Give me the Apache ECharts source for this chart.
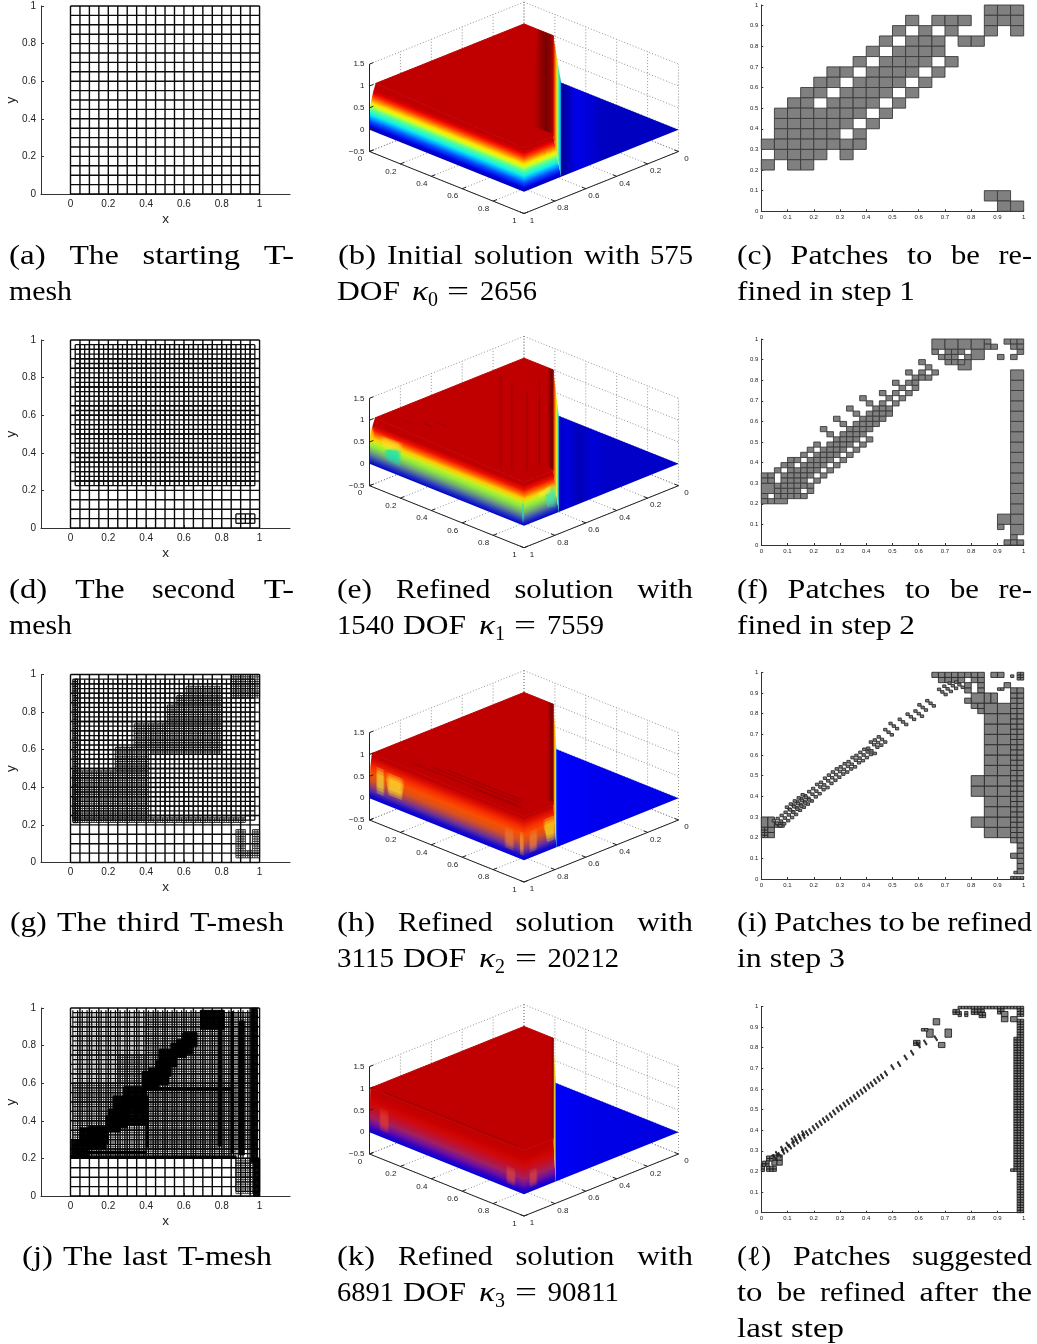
<!DOCTYPE html>
<html><head><meta charset="utf-8">
<style>html,body{margin:0;padding:0;background:#fff}#c{width:1037px;height:1344px}</style>
<script src="https://cdn.jsdelivr.net/npm/echarts@6/dist/echarts.min.js"></script>
</head><body><div id="c"></div>
<script>
// ---------- layout rows ----------
const meshTops=[6,340,674.5,1008];
const patchBoxes=[[5,206.3],[339,206],[672.3,206.7],[1006.3,206.4]];
const surfOffsets=[0,334.2,668.5,1002.5];
const capRows=[0,334,667,1001];
// ---------- tick labels ----------
const meshTicks=[0,0.2,0.4,0.6,0.8,1];
const zTicks=[-0.5,0,0.5,1,1.5];
// ---------- T-mesh data: [x0,x1,y0,y1,spacing] ----------
const meshBase=[[0,1,0,1,0.05]];
const meshD2=[[0.025,0.975,0.225,0.975,0.025],[0.875,0.975,0.025,0.075,0.025]];
const meshG2=[[0.025,0.975,0.225,0.975,0.025],[0.0125,0.0375,0.2125,0.975,0.0125]];
const meshG3=[[0.0125,0.4125,0.225,0.4875,0.0125],[0.2375,0.4125,0.4875,0.6125,0.0125],[0.3375,0.425,0.6125,0.7375,0.0125],
 [0.425,0.8,0.575,0.7375,0.0125],[0.5125,0.8,0.7375,0.8375,0.0125],[0.5625,0.8,0.8375,0.8875,0.0125],[0.6125,0.8,0.8875,0.9375,0.0125],
 [0.025,0.925,0.2125,0.2375,0.0125],[0.85,1,0.875,1,0.0125],[0.875,0.925,0.025,0.175,0.0125],[0.9625,1,0.025,0.175,0.0125],[0.925,0.9625,0.025,0.0625,0.0125]];
const meshJ2=[[0.0125,0.9875,0.2,0.9875,0.025],[0.875,1,0.025,0.2,0.025]];
const meshJ3light=[[0.025,0.4,0.6,0.975,0.0125],[0.025,0.25,0.5,0.6,0.0125]];
const meshJ3=[[0.0125,0.875,0.2,0.6,0.0125],[0.4,0.975,0.25,0.975,0.0125],[0.25,0.4,0.6,0.75,0.0125],[0.875,0.975,0.0125,0.2,0.0125]];
const meshJ4=[[0.00625,0.09375,0.2,0.3,0.00625],[0.09375,0.1875,0.25,0.36875,0.00625],[0.05,0.2,0.28,0.3625,0.00625],[0.1875,0.2625,0.34375,0.425,0.00625],
 [0.2,0.3,0.3625,0.4625,0.00625],[0.225,0.4125,0.38125,0.53125,0.00625],[0.28125,0.4,0.4625,0.58125,0.00625],[0.38125,0.46875,0.5625,0.6625,0.00625],[0.4125,0.51875,0.59375,0.68125,0.00625],
 [0.45,0.53125,0.6375,0.71875,0.00625],[0.46875,0.5625,0.6875,0.78125,0.00625],[0.53125,0.6125,0.7375,0.8125,0.00625],[0.5625,0.64375,0.75625,0.83125,0.00625],[0.59375,0.66875,0.79375,0.86875,0.00625],
 [0.6875,0.8125,0.8875,0.9875,0.00625],[0.89375,0.91875,0.21875,0.93125,0.00625],[0.95625,0.9875,0.18,1,0.00625],
 [0.96875,1,0,0.2,0.00625],[0.78125,0.8,0.26875,0.9625,0.00625],[0.85,0.8625,0.23,0.98,0.00625],[0.4,0.85,0.5625,0.575,0.00625],[0.4,0.4125,0.26,0.45,0.00625],
 [0,0.875,0.2,0.2125,0.00625],[0.0625,0.4,0.225,0.2375,0.00625]];
// ---------- patch data ----------
const cellC=0.05;
const rowsC=[[19,[17,18,19]],[18,[11,13,14,15,17,18,19]],[17,[10,12,14,17,19]],[16,[9,11,12,13,15,16]],[15,[8,10,11,12,13]],[14,[7,9,10,11,12,14]],
 [13,[5,6,8,9,10,11,13]],[12,[4,5,7,8,9,10,12]],[11,[3,4,6,7,8,9,11]],[10,[2,3,5,6,7,8,10]],[9,[1,2,3,4,5,6,7,9]],[8,[1,2,3,4,5,6,8]],
 [7,[1,2,3,4,5,7]],[6,[0,1,2,3,4,5,6,7]],[5,[1,2,3,4,6]],[4,[0,2,3]],[1,[17,18]],[0,[18,19]]];
const cellF=0.025;
const rowsF=[[39,[34,37,38,39]],[38,[34,35,38,39]],[37,[26,28,29,30,39]],[36,[27,28,29,31,36,38]],[35,[24,28,29,30]],[34,[25]],
 [33,[22,24,26]],[32,[23,24,25]],[31,[20,22,23]],[30,[21,23]],[29,[18,20,22]],[28,[15,19,21]],[27,[16,18,20]],[26,[13,17,18,19]],
 [25,[14,16,17,18,19]],[24,[11,15,16,17,18]],[23,[12,14,15,16,17]],[22,[9,13,14,15,16]],[21,[10,12,13,14,15]],[20,[11,12,13,14,16]],
 [19,[8,10,11,12,13,15]],[18,[7,9,10,11,12,14]],[17,[6,8,9,10,11,13]],[16,[4,5,7,8,9,10,12]],[15,[3,4,6,7,8,9,11]],[14,[2,4,5,6,7,8,10]],
 [13,[0,1,3,4,5,6,7,9]],[12,[0,1,3,4,5,6,8]],[11,[2,3,4,5,6,7]],[10,[2,3,4,5,7]],[9,[0,2,3,4,5,6]],[8,[0,1]],[3,[36]],[1,[38]],[0,[37,38,39]]];
const blocksF=[[0.65,0.85,0.95,1,0.05,0.05],[0.8,0.85,0.9,0.95,0.05,0.05],[0.75,0.8,0.85,0.9,0.05,0.05],[0.95,1,0.05,0.85,0.05,0.05],
 [0.9,0.95,0.1,0.15,0.05,0.05],[0,0.05,0.25,0.3,0.05,0.05],[0.05,0.1,0.2,0.25,0.05,0.05]];
const blocksI=[[0.65,0.85,0.975,1,0.025,0.025],[0.875,0.925,0.975,1,0.025,0.025],[0.675,0.775,0.95,0.975,0.025,0.025],[0.8,0.85,0.95,0.975,0.025,0.025],
 [0.775,0.8,0.9,0.95,0.025,0.025],[0.825,0.85,0.9,0.95,0.025,0.025],[0.8,0.85,0.85,0.9,0.05,0.05],[0.85,0.9,0.85,0.9,0.025,0.05],[0.775,0.8,0.85,0.875,0.025,0.025],
 [0.8,0.825,0.825,0.85,0.025,0.025],[0.825,0.85,0.8,0.85,0.025,0.025],[0.9,0.925,0.9125,0.925,0.0125,0.0125],[0.925,0.95,0.925,0.95,0.025,0.025],
 [0.85,0.95,0.2,0.85,0.05,0.05],[0.8,0.85,0.4,0.5,0.05,0.05],[0.8,0.85,0.25,0.3,0.05,0.05],[0.95,1,0.2,0.925,0.025,0.025],
 [0.95,0.975,0.175,0.2,0.025,0.025],[0.975,1,0.025,0.2,0.025,0.025],[0.95,0.975,0.1,0.125,0.025,0.025],[0.9625,0.975,0.025,0.0375,0.0125,0.0125],
 [0.95,1,0,0.0125,0.0125,0.0125],[0.975,1,0.9625,1,0.0125,0.0125],[0.95,0.9625,0.975,0.9875,0.0125,0.0125],
 [0,0.05,0.25,0.3,0.025,0.05],[0,0.025,0.2,0.25,0.0125,0.0125],[0.025,0.05,0.2,0.25,0.025,0.025],[0.05,0.0875,0.25,0.275,0.0125,0.0125]];
const strokesI=[[0.645,0.85],[0.615,0.83],[0.6,0.8],[0.57,0.785],[0.54,0.76],[0.505,0.74],[0.485,0.71],[0.46,0.675],[0.445,0.66],[0.43,0.65],[0.42,0.62],
 [0.405,0.615],[0.39,0.6],[0.375,0.585],[0.36,0.575],[0.345,0.555],[0.33,0.545],[0.315,0.53],[0.3,0.52],[0.285,0.505],[0.27,0.49],[0.255,0.475],[0.24,0.455],
 [0.225,0.445],[0.21,0.425],[0.195,0.41],[0.18,0.39],[0.165,0.375],[0.15,0.36],[0.135,0.345],[0.12,0.325],[0.105,0.31],[0.09,0.295],[0.075,0.28],[0.06,0.27],
 [0.14,0.365],[0.155,0.38],[0.17,0.395],[0.125,0.35],[0.11,0.335],[0.69,0.905],[0.71,0.92],[0.73,0.935],[0.755,0.94]];
const blocksL=[[0.975,1,0,0.93,0.0125,0.0125],[0.9625,0.975,0.2,0.85,0.0125,0.0125],[0.95,0.9625,0.2,0.2125,0.0125,0.0125],[0.75,1,0.9875,1,0.0125,0.0125],
 [0.75,0.7625,0.95,0.975,0.0125,0.0125],[0.73,0.75,0.96,0.975,0.0125,0.0125],[0.775,0.7875,0.95,0.975,0.0125,0.0125],[0.8,0.85,0.96,0.975,0.0125,0.0125],[0.83,0.85,0.945,0.96,0.0125,0.0125],
 [0.9,0.925,0.9625,0.9875,0.0125,0.0125],[0.915,0.94,0.925,0.975,0.025,0.025],[0.95,0.975,0.925,0.95,0.025,0.025],[0.975,0.99,0.95,0.985,0.0125,0.0125],
 [0.63,0.655,0.85,0.89,0.025,0.04],[0.655,0.68,0.91,0.94,0.025,0.03],[0.675,0.7,0.8,0.825,0.025,0.025],[0.7,0.725,0.85,0.89,0.025,0.04],[0.58,0.605,0.81,0.825,0.0125,0.0125],[0.61,0.63,0.88,0.89,0.0125,0.0125],
 [0.04,0.08,0.23,0.28,0.02,0.025],[0,0.0125,0.2,0.23,0.0125,0.0125],[0.02,0.05,0.2,0.22,0.0125,0.0125],[0.02,0.04,0.25,0.265,0.0125,0.0125],[0.005,0.02,0.225,0.24,0.0125,0.0125]];
const strokesL=[[0.665,0.845],[0.625,0.825],[0.6,0.81],[0.575,0.775],[0.55,0.752],[0.525,0.72],[0.5,0.705],[0.475,0.675],[0.46,0.66],[0.447,0.648],[0.434,0.636],[0.421,0.622],
 [0.408,0.612],[0.395,0.598],[0.382,0.586],[0.369,0.574],[0.356,0.56],[0.343,0.548],[0.33,0.536],[0.317,0.524],[0.304,0.51],[0.291,0.5],[0.278,0.486],[0.265,0.472],
 [0.252,0.458],[0.239,0.448],[0.226,0.434],[0.213,0.422],[0.2,0.41],[0.187,0.395],[0.174,0.385],[0.161,0.37],[0.148,0.358],[0.135,0.345],[0.122,0.332],[0.109,0.32],[0.096,0.305],[0.083,0.295],[0.07,0.28],
 [0.13,0.36],[0.12,0.35],[0.1,0.33],[0.08,0.31],[0.06,0.285],[0.05,0.27],[0.16,0.385],[0.145,0.37]];
// ---------- surface data ----------
const layerEdgeB=[[0,1,0],[1,1,0],[1,1,1],[0,0.96,1],[0,0.975,0.85],[0,0.995,0.55]];
const layerEdgeE=[[0,1,0],[1,1,0],[1,1,1],[0,0.965,1],[0,0.98,0.85],[0,0.995,0.6]];
const layerEdgeH=[[0,1,0],[1,1,0],[1,1,1],[0,0.985,1],[0,0.995,0.7]];
const layerEdgeK=[[0,1,0],[1,1,0],[1,1,1],[0,0.995,1]];
const layerStopsB=[[0,'#0000b8'],[0.08,'#0000e0'],[0.2,'#0050ff'],[0.29,'#00b0ff'],[0.36,'#10f0e8'],[0.48,'#60ff90'],[0.56,'#d0ff20'],[0.63,'#ffe000'],[0.72,'#ff8000'],[0.8,'#ff2800'],[0.88,'#e00000'],[0.96,'#c00000'],[1,'#c00000']];
const layerStopsE=[[0,'#0000c8'],[0.1,'#2030c0'],[0.2,'#5070a0'],[0.3,'#70b070'],[0.42,'#90e840'],[0.53,'#c8f020'],[0.62,'#ffc800'],[0.72,'#ff6000'],[0.82,'#f01000'],[0.93,'#c00000'],[1,'#c00000']];
const layerStopsH=[[0,'#0000e0'],[0.08,'#1808c8'],[0.2,'#6030a0'],[0.3,'#a04060'],[0.42,'#d85020'],[0.58,'#f85000'],[0.72,'#f83000'],[0.85,'#e01000'],[0.97,'#c00000'],[1,'#c00000']];
const layerStopsK=[[0,'#0000e0'],[0.1,'#3000c0'],[0.22,'#7010a0'],[0.35,'#a02060'],[0.5,'#c01030'],[0.65,'#d00808'],[0.8,'#c80000'],[1,'#c00000']];
const shockB=[0.19,0.24,0.19,0.3,[[0,'#d01000'],[0.12,'#ff8000'],[0.22,'#e0f020'],[0.34,'#20f0d0'],[0.46,'#0080ff'],[0.62,'#0000e0'],[1,'#000090']]];
const shockE=[0.19,0.225,0.19,0.26,[[0,'#d01000'],[0.15,'#ff8000'],[0.3,'#e0f020'],[0.45,'#20f0d0'],[0.6,'#0080ff'],[0.8,'#0000e0'],[1,'#0000b0']]];
const shockH=[0.19,0.21,0.19,0.23,[[0,'#d01000'],[0.15,'#ff9000'],[0.3,'#e0f020'],[0.45,'#20f0d0'],[0.65,'#0080ff'],[1,'#0000ff']]];
const shockK=[0.19,0.205,0.19,0.215,[[0,'#d01000'],[0.2,'#ff9000'],[0.4,'#c0f050'],[0.6,'#40c0ff'],[1,'#0000ff']]];
const blueB=[[0,'#000090'],[0.08,'#0000a8'],[0.17,'#0000e8'],[0.28,'#0000d8'],[0.38,'#0000c0'],[1,'#0000c0']];
const blueE=[[0,'#0000b0'],[0.1,'#0000e0'],[0.2,'#0000b8'],[0.3,'#0000d8'],[0.42,'#0000c8'],[1,'#0000c8']];
const blueH=[[0,'#0000ff'],[0.3,'#0000f0'],[1,'#0000e8']];
const blueK=[[0,'#0000f8'],[0.3,'#0000e8'],[1,'#0000e0']];
const darkB=[[[0.09,0,1],[0.19,0,1],[0.98,0.79,1],[0.84,0.8,1]],0.04,0.19,[[0,'rgba(192,0,0,0)'],[0.4,'#a00000'],[0.68,'#780000'],[0.88,'#900000'],[1,'#c00000']]];
const darkE=[[[0.14,0,1],[0.19,0,1],[0.99,0.8,1],[0.94,0.8,1]],0.14,0.19,[[0,'rgba(192,0,0,0)'],[0.55,'#900000'],[0.85,'#700000'],[1,'#b00000']]];
const darkH=[[[0.14,0,1],[0.19,0,1],[0.98,0.79,1],[0.93,0.79,1]],0.14,0.19,[[0,'rgba(192,0,0,0)'],[0.6,'#900000'],[0.85,'#700000'],[1,'#c00000']]];
const darkK=[[[0.17,0,1],[0.19,0,1],[0.99,0.8,1],[0.97,0.8,1]],0.17,0.19,[[0,'rgba(192,0,0,0)'],[0.8,'#900000'],[1,'#c00000']]];
const blotsE=[[[[0.09,1,0.42],[0.21,1,0.72],[0.2,1,0.22],[0.1,1,0.24]],'0,225,205'],[[[0.06,1,0.75],[0.22,1,0.78],[0.2,1,0.55],[0.09,1,0.5]],'255,225,40'],
 [[[0,1,0.45],[0.03,1,0.45],[0.03,1,0.85],[0,1,0.85]],'255,210,0'],[[[0.985,1,0.08],[1,1,0.08],[1,1,0.55],[0.985,1,0.55]],'50,215,190'],
 [[[1,0.87,0.62],[1,0.79,0.68],[1,0.79,0.15],[1,0.85,0.2]],'60,225,190'],[[[1,0.92,0.6],[1,0.82,0.7],[1,0.82,0.5],[1,0.9,0.5]],'245,235,50']];
const blotsH=[[[[0.04,1,0.78],[0.1,1,0.78],[0.1,1,0.18],[0.04,1,0.18]],'240,225,60'],[[[0.1,1,0.75],[0.23,1,0.75],[0.21,1,0.25],[0.12,1,0.25]],'255,240,50'],
 [[[1,0.88,0.75],[1,0.8,0.75],[1,0.79,0.2],[1,0.85,0.2]],'245,230,30'],[[[0.97,1,0.1],[1,1,0.1],[1,1,0.62],[0.97,1,0.62]],'245,150,60'],
 [[[0.87,1,0.12],[0.94,1,0.12],[0.94,1,0.6],[0.87,1,0.6]],'235,120,50'],[[[1,0.97,0.12],[1,0.91,0.12],[1,0.91,0.6],[1,0.97,0.6]],'240,130,50']];
const blotsK=[[[[0.06,1,0.15],[0.13,1,0.15],[0.13,1,0.65],[0.06,1,0.65]],'230,60,40'],[[[0.88,1,0.1],[0.95,1,0.1],[0.95,1,0.5],[0.88,1,0.5]],'220,70,60'],
 [[[1,0.97,0.1],[1,0.91,0.1],[1,0.91,0.5],[1,0.97,0.5]],'220,70,60']];
const streaksE=[[[0.05,0.2],[0.8,0.95]],[[0.16,0.24],[0.86,0.94]],[[0.28,0.26],[0.92,0.9]],[[0.36,0.26],[0.93,0.83]],[[0.22,0.12],[0.9,0.8]],[[0.12,0.89],[0.17,0.89]],[[0.2,0.85],[0.26,0.85]],[[0.24,0.8],[0.3,0.8]]];
const streaksH=[[[0.21,0.93],[0.89,0.93]],[[0.3,0.9],[0.88,0.9]],[[0.38,0.875],[0.86,0.875]],[[0.62,0.94],[0.93,0.94]]];
const streaksK=[[[0.08,0.985],[0.95,0.985]]];
// ---------- captions: [row, line, text, left, right, kind] ----------
const captions=[
[0,0,'(a)',9,45.7],[0,0,'The',69.4,118.8],[0,0,'starting',142.5,240],[0,0,'T-',263.7,294],[0,1,'mesh',9,72],
[0,0,'(b)',338,376],[0,0,'Initial',387,463],[0,0,'solution',474,573],[0,0,'with',584,640],[0,0,'575',650,693],
[0,1,'DOF',337,400],[0,1,'κ',412,428,'m'],[0,1,'0',428,438,'s'],[0,1,'=',447,469],[0,1,'2656',480,537],
[0,0,'(c)',737,772],[0,0,'Patches',790.6,888.4],[0,0,'to',907,932.5],[0,0,'be',951,980],[0,0,'re-',998.6,1032],[0,1,'fined in step 1',737,915],
[1,0,'(d)',9,47.3],[1,0,'The',75.3,124.7],[1,0,'second',152,235],[1,0,'T-',263.7,294],[1,1,'mesh',9,72],
[1,0,'(e)',337,372],[1,0,'Refined',396,490.5],[1,0,'solution',514.4,613.4],[1,0,'with',637.3,693],
[1,1,'1540',337,394.4],[1,1,'DOF',403,466],[1,1,'κ',479,495,'m'],[1,1,'1',495,505,'s'],[1,1,'=',514,536],[1,1,'7559',547,604],
[1,0,'(f)',737,768],[1,0,'Patches',787.6,885.4],[1,0,'to',905,930.5],[1,0,'be',950,979],[1,0,'re-',998.5,1032],[1,1,'fined in step 2',737,915],
[2,0,'(g)',10,46.7],[2,0,'The',57,106.6],[2,0,'third',117,179.4],[2,0,'T-mesh',190,284],
[2,0,'(h)',337,375],[2,0,'Refined',398,492.6],[2,0,'solution',515.4,614.4],[2,0,'with',637.2,693],
[2,1,'3115',337,394],[2,1,'DOF',403,466],[2,1,'κ',479,495,'m'],[2,1,'2',495,505,'s'],[2,1,'=',515,537],[2,1,'20212',547.5,619],
[2,0,'(i)',737,767.3],[2,0,'Patches',774.3,872],[2,0,'to',879,904.6],[2,0,'be',911.6,940],[2,0,'refined',947.4,1032],[2,1,'in step 3',737,845],
[3,0,'(j)',22,53],[3,0,'The',63,112.6],[3,0,'last',122.8,167.6],[3,0,'T-mesh',177.8,272],
[3,0,'(k)',337,375],[3,0,'Refined',398,492.6],[3,0,'solution',515.4,614.4],[3,0,'with',637.2,693],
[3,1,'6891',337,394],[3,1,'DOF',403,466],[3,1,'κ',479,495,'m'],[3,1,'3',495,505,'s'],[3,1,'=',515,537],[3,1,'90811',547.5,619],
[3,0,'(ℓ)',737,771.3],[3,0,'Patches',793,890.6],[3,0,'suggested',912,1032],
[3,1,'to',737,762.5],[3,1,'be',777,805.7],[3,1,'refined',820,905],[3,1,'after',919.5,978],[3,1,'the',992,1032],[3,2,'last step',737,844]];

// ---------- helpers ----------
const axisColor='#333';
const grids=[],xAxes=[],yAxes=[],series=[];
function segments(regions){const out=[];const e=1e-6;
 regions.forEach(([x0,x1,y0,y1,h])=>{
  for(let x=x0;x<=x1+e;x+=h)out.push([x,y0,x,y1]);
  for(let y=y0;y<=y1+e;y+=h)out.push([x0,y,x1,y]);});return out;}
function lineSeries(g,regions,color,width){
 series.push({type:'custom',coordinateSystem:'cartesian2d',xAxisIndex:g,yAxisIndex:g,animation:false,progressive:0,silent:true,clip:false,
  data:segments(regions),
  renderItem:(p,api)=>{const a=api.coord([api.value(0),api.value(1)]),b=api.coord([api.value(2),api.value(3)]);
   return {type:'line',shape:{x1:a[0],y1:a[1],x2:b[0],y2:b[1]},style:{stroke:color,lineWidth:width,fill:null},silent:true};}});
}
function meshPanel(top,levels){
 const g=grids.length;
 grids.push({left:41,width:249,top:top,height:188});
 xAxes.push({gridIndex:g,type:'value',min:-0.156,max:1.161,splitLine:{show:false},
  axisLine:{onZero:false,lineStyle:{color:axisColor,width:1}},
  axisTick:{inside:true,length:3,customValues:meshTicks,lineStyle:{color:axisColor}},
  axisLabel:{customValues:meshTicks,fontSize:10,fontFamily:'Liberation Sans',color:'#222',margin:5,formatter:v=>String(v)},
  name:'x',nameLocation:'middle',nameGap:18,nameTextStyle:{fontFamily:'Liberation Sans',fontSize:13.5,color:'#222'}});
 yAxes.push({gridIndex:g,type:'value',min:0,max:1,interval:0.2,splitLine:{show:false},
  axisLine:{onZero:false,lineStyle:{color:axisColor,width:1}},
  axisTick:{inside:true,length:3,lineStyle:{color:axisColor}},
  axisLabel:{fontSize:10,fontFamily:'Liberation Sans',color:'#222',margin:5,formatter:v=>String(v)},
  name:'y',nameLocation:'middle',nameGap:18,nameTextStyle:{fontFamily:'Liberation Sans',fontSize:13.5,color:'#222'}});
 levels.forEach(l=>lineSeries(g,l[0],l[1],l[2]));
}
function rowCells(rows,h){const o=[];rows.forEach(([j,cols])=>cols.forEach(i=>o.push([i*h,j*h,h,h])));return o;}
function blockCells(bl){const o=[],e=1e-6;bl.forEach(([x0,x1,y0,y1,dx,dy])=>{
 for(let x=x0;x<x1-e;x+=dx)for(let y=y0;y<y1-e;y+=dy)o.push([x,y,dx,dy]);});return o;}
function strokeCells(list,dx,dy,n){const o=[];list.forEach(([x,y])=>{
 for(let k=0;k<n;k++){const t=k-(n-1)/2;o.push([x+t*dx-dx/2,y-t*dy-dy/2,dx,dy]);}});return o;}
function patchPanel(box,cells,sw,stroke){
 const g=grids.length;
 grids.push({left:761.3,width:262.4,top:box[0],height:box[1]});
 const ax={type:'value',gridIndex:g,min:0,max:1,interval:0.1,splitLine:{show:false},
  axisLine:{onZero:false,lineStyle:{color:axisColor,width:1}},axisTick:{inside:true,length:2,lineStyle:{color:axisColor}},
  axisLabel:{fontSize:6,fontFamily:'Liberation Sans',color:'#222',margin:3,hideOverlap:false,formatter:v=>String(+v.toFixed(1))}};
 xAxes.push(Object.assign({},ax));yAxes.push(Object.assign({},ax));
 series.push({type:'custom',coordinateSystem:'cartesian2d',xAxisIndex:g,yAxisIndex:g,animation:false,progressive:0,silent:true,clip:false,
  data:cells,
  renderItem:(p,api)=>{const a=api.coord([api.value(0),api.value(1)]),b=api.coord([api.value(0)+api.value(2),api.value(1)+api.value(3)]);
   return {type:'rect',shape:{x:a[0],y:b[1],width:b[0]-a[0],height:a[1]-b[1]},style:{fill:'#808080',stroke:stroke,lineWidth:sw},silent:true};}});
}
// ---------- projected surface panel ----------
const kZ=1.419;
function proj(p){return [p[0]-p[1],p[2]+0.5-kZ*(p[0]+p[1])];}
function surfacePanel(off,s){
 const g=grids.length;
 grids.push({left:338.6,width:370.8,top:2.1+off,height:227.24});
 xAxes.push({gridIndex:g,type:'value',min:-1.2,max:1.2,show:false});
 yAxes.push({gridIndex:g,type:'value',min:-3.2,max:2,show:false});
 const items=[];
 const T=[0,0.2,0.4,0.6,0.8,1];
 const dot=(a,b)=>items.push({line:[a,b],stroke:'#777',dash:[1,2],w:0.8});
 const solid=(a,b)=>items.push({line:[a,b],stroke:'#222',w:1});
 T.forEach(t=>{dot([t,0,-0.5],[t,1,-0.5]);dot([0,t,-0.5],[1,t,-0.5]);dot([0,t,-0.5],[0,t,1.5]);dot([t,0,-0.5],[t,0,1.5]);});
 zTicks.forEach(z=>{dot([0,0,z],[0,1,z]);dot([0,0,z],[1,0,z]);});
 const h=(c0,c1)=>({h:[[c0,0,0],[c1,0,0]]});
 const corner=s.edge[3];
 items.push({pts:[[s.shock[0],0,0],[1,0,0],[1,1-s.shock[1],0]],grad:h(0.2,1),stops:s.blue});
 items.push({pts:s.edge,perp:[[0,1,0],[1,1,0],[0,1,1]],stops:s.layer});
 items.push({pts:[[1,1,0],[1,1-s.shock[1],0],[1,0.81,1],[1,1,1]],perp:[[1,1,0],[1,0,0],[1,1,1]],stops:s.layer});
 s.blots.forEach(b=>{const zs=b[0].map(q=>q[2]);const zc=(Math.min(...zs)+Math.max(...zs))/2;
  [1,0.75,0.5].forEach(f=>items.push({pts:b[0].map(q=>[q[0],q[1],zc+(q[2]-zc)*f]),blot:b[1]}));});
 items.push({pts:[[0,0,1],[0.19,0,1],[1,0.81,1],[1,1,1],corner],fill:'#c00000',edge:'#c00000'});
 items.push({pts:s.dark[0],grad:h(s.dark[1],s.dark[2]),stops:s.dark[3]});
 s.streaks.forEach(l=>items.push({line:[[l[0][0],l[0][1],1],[l[1][0],l[1][1],1]],stroke:'rgba(130,0,0,0.4)',w:1.5}));
 items.push({pts:[[s.shock[0],0,1],[s.shock[1],0,0],[1,1-s.shock[1],0],[1,0.81,1]],grad:h(s.shock[2],s.shock[3]),stops:s.shock[4]});
 solid([0,1,-0.5],[1,1,-0.5]);solid([1,1,-0.5],[1,0,-0.5]);solid([0,1,-0.5],[0,1,1.5]);
 T.forEach(t=>{solid([t,1,-0.5],[t,0.975,-0.5]);solid([1,t,-0.5],[0.975,t,-0.5]);});
 zTicks.forEach(z=>solid([0,1,z],[0,0.975,z]));
 const font='8px "Liberation Sans"';
 T.forEach(t=>{items.push({text:String(t),at:[t,1,-0.5],dx:-9.5,dy:7.5,font});items.push({text:String(t),at:[1,t,-0.5],dx:8,dy:7,font});});
 zTicks.forEach(z=>items.push({text:String(z).replace('-','−'),at:[0,1,z],dx:-5,dy:0,font,align:'right'}));
 series.push({type:'custom',coordinateSystem:'cartesian2d',xAxisIndex:g,yAxisIndex:g,animation:false,progressive:0,silent:true,clip:false,
  data:items.map((_,i)=>[i,0]),
  renderItem:(p,api)=>{
   const it=items[p.dataIndex];const P=q=>api.coord(proj(q));const z2=p.dataIndex;
   if(it.text!==undefined){const c=P(it.at);return {type:'text',z2,silent:true,style:{text:it.text,x:c[0]+it.dx,y:c[1]+it.dy,font:it.font,fill:'#222',align:it.align||'center',verticalAlign:'middle'}};}
   if(it.line){const a=P(it.line[0]),b=P(it.line[1]);return {type:'line',z2,silent:true,shape:{x1:a[0],y1:a[1],x2:b[0],y2:b[1]},style:{stroke:it.stroke,lineWidth:it.w,lineDash:it.dash||null,fill:null}};}
   const pts=it.pts.map(P);let fill=it.fill;
   const cs=st=>st.map(([o,c])=>({offset:o,color:c}));
   if(it.grad){const a=P(it.grad.h[0]),b=P(it.grad.h[1]);fill=new echarts.graphic.LinearGradient(a[0],0,b[0],0,cs(it.stops),true);}
   if(it.perp){const A=P(it.perp[0]),B=P(it.perp[1]),C=P(it.perp[2]);
    const ex=B[0]-A[0],ey=B[1]-A[1],L=Math.hypot(ex,ey),ux=ex/L,uy=ey/L;
    const cx=C[0]-A[0],cy=C[1]-A[1],d=cx*ux+cy*uy;
    fill=new echarts.graphic.LinearGradient(A[0],A[1],A[0]+cx-d*ux,A[1]+cy-d*uy,cs(it.stops),true);}
   if(it.blot){const xs=pts.map(q=>q[0]);const a=Math.min(...xs),b=Math.max(...xs);
    fill=new echarts.graphic.LinearGradient(a,0,b,0,[{offset:0,color:`rgba(${it.blot},0)`},{offset:0.25,color:`rgba(${it.blot},0.32)`},{offset:0.75,color:`rgba(${it.blot},0.32)`},{offset:1,color:`rgba(${it.blot},0)`}],true);}
   return {type:'polygon',z2,silent:true,shape:{points:pts},style:{fill,stroke:it.edge||null,lineWidth:it.edge?1:0}};
  }});
}
// ---------- build panels ----------
const black='#0a0a0a';
meshPanel(meshTops[0],[[meshBase,black,1.4]]);
meshPanel(meshTops[1],[[meshBase,black,1.4],[meshD2,black,1.3]]);
meshPanel(meshTops[2],[[meshG3,'#3a3a3a',1.1],[meshBase,black,1.4],[meshG2,black,1.3]]);
meshPanel(meshTops[3],[[meshJ3light,'#aaa',0.9],[meshJ3,'#4a4a4a',1],[meshBase,black,1.4],[meshJ2,black,1.2],[meshJ4,'#000',1.1]]);
surfacePanel(surfOffsets[0],{edge:layerEdgeB,layer:layerStopsB,shock:shockB,blue:blueB,dark:darkB,blots:[],streaks:[]});
surfacePanel(surfOffsets[1],{edge:layerEdgeE,layer:layerStopsE,shock:shockE,blue:blueE,dark:darkE,blots:blotsE,streaks:streaksE});
surfacePanel(surfOffsets[2],{edge:layerEdgeH,layer:layerStopsH,shock:shockH,blue:blueH,dark:darkH,blots:blotsH,streaks:streaksH});
surfacePanel(surfOffsets[3],{edge:layerEdgeK,layer:layerStopsK,shock:shockK,blue:blueK,dark:darkK,blots:blotsK,streaks:streaksK});
patchPanel(patchBoxes[0],rowCells(rowsC,cellC),0.9,'#3a3a3a');
patchPanel(patchBoxes[1],blockCells(blocksF).concat(rowCells(rowsF,cellF)),0.9,'#3a3a3a');
patchPanel(patchBoxes[2],blockCells(blocksI).concat(strokeCells(strokesI,0.0125,0.0125,3)),0.9,'#2a2a2a');
patchPanel(patchBoxes[3],blockCells(blocksL).concat(strokeCells(strokesL,0.004,0.008,3)),0.8,'#111');
// ---------- captions ----------
const meas=document.createElement('canvas').getContext('2d');
const capY=256.5,capStep=36;
const elements=captions.map(([r,l,t,x0,x1,k])=>{
 const font=k==='m'?'italic 27.5px "Liberation Serif"':k==='s'?'20px "Liberation Serif"':'27.5px "Liberation Serif"';
 meas.font=font;const w=meas.measureText(t).width||1;
 return {type:'text',x:x0,y:capRows[r]+capY+l*capStep+(k==='s'?8:0),scaleX:(x1-x0)/w,silent:true,
  style:{text:t,font,fill:'#000',align:'left',verticalAlign:'middle'}};});
const chart=echarts.init(document.getElementById('c'),null,{renderer:'canvas',width:1037,height:1344});
chart.setOption({animation:false,backgroundColor:'#fff',grid:grids,xAxis:xAxes,yAxis:yAxes,series,graphic:{elements}});
</script></body></html>
